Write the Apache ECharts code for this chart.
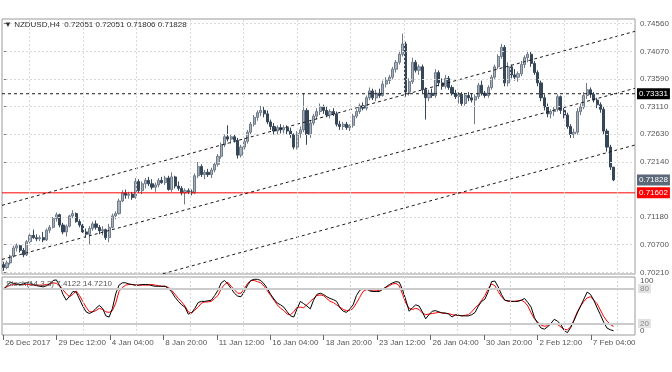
<!DOCTYPE html>
<html><head><meta charset="utf-8">
<script src="https://cdn.jsdelivr.net/npm/echarts@6/dist/echarts.min.js"></script>
<style>html,body{margin:0;padding:0;background:#fff}#c{width:672px;height:372px}</style>
</head><body><div id="c"></div>
<script>
// ---------------- DATA ----------------
const opens = [
0.7035,0.7030,0.7038,0.7050,0.7064,0.7068,0.7060,0.7052,0.7075,0.7086,
0.7082,0.7080,0.7082,0.7078,0.7095,0.7100,0.7115,0.7122,0.7104,0.7092,
0.7102,0.7120,0.7124,0.7110,0.7104,0.7092,0.7088,0.7098,0.7106,0.7100,
0.7094,0.7096,0.7082,0.7100,0.7120,0.7124,0.7146,0.7160,0.7156,0.7158,
0.7152,0.7180,0.7164,0.7176,0.7182,0.7176,0.7170,0.7174,0.7182,0.7178,
0.7186,0.7166,0.7188,0.7172,0.7168,0.7160,0.7164,0.7162,0.7160,0.7190,
0.7206,0.7192,0.7196,0.7192,0.7200,0.7210,0.7224,0.7244,0.7258,0.7254,
0.7258,0.7252,0.7226,0.7240,0.7250,0.7266,0.7280,0.7292,0.7300,0.7304,
0.7298,0.7284,0.7276,0.7268,0.7274,0.7270,0.7274,0.7268,0.7262,0.7240,
0.7264,0.7270,0.7304,0.7262,0.7282,0.7294,0.7302,0.7310,0.7304,0.7296,
0.7302,0.7298,0.7280,0.7276,0.7280,0.7274,0.7278,0.7294,0.7302,0.7312,
0.7308,0.7326,0.7338,0.7326,0.7334,0.7330,0.7350,0.7356,0.7362,0.7376,
0.7388,0.7402,0.7420,0.7336,0.7354,0.7388,0.7374,0.7380,0.7340,0.7326,
0.7334,0.7330,0.7370,0.7352,0.7346,0.7360,0.7344,0.7334,0.7328,0.7332,
0.7316,0.7330,0.7326,0.7322,0.7328,0.7348,0.7334,0.7330,0.7344,0.7362,
0.7380,0.7398,0.7414,0.7352,0.7380,0.7366,0.7362,0.7368,0.7384,0.7396,
0.7402,0.7386,0.7370,0.7352,0.7326,0.7310,0.7298,0.7302,0.7306,0.7328,
0.7304,0.7296,0.7276,0.7262,0.7266,0.7302,0.7310,0.7330,0.7340,0.7332,
0.7322,0.7314,0.7306,0.7268,0.7240,0.72051];
const closes = [
0.7030,0.7038,0.7050,0.7064,0.7068,0.7060,0.7052,0.7075,0.7086,0.7082,
0.7080,0.7082,0.7078,0.7095,0.7100,0.7115,0.7122,0.7104,0.7092,0.7102,
0.7120,0.7124,0.7110,0.7104,0.7092,0.7088,0.7098,0.7106,0.7100,0.7094,
0.7096,0.7082,0.7100,0.7120,0.7124,0.7146,0.7160,0.7156,0.7158,0.7152,
0.7180,0.7164,0.7176,0.7182,0.7176,0.7170,0.7174,0.7182,0.7178,0.7186,
0.7166,0.7188,0.7172,0.7168,0.7160,0.7164,0.7162,0.7160,0.7190,0.7206,
0.7192,0.7196,0.7192,0.7200,0.7210,0.7224,0.7244,0.7258,0.7254,0.7258,
0.7252,0.7226,0.7240,0.7250,0.7266,0.7280,0.7292,0.7300,0.7304,0.7298,
0.7284,0.7276,0.7268,0.7274,0.7270,0.7274,0.7268,0.7262,0.7240,0.7264,
0.7270,0.7304,0.7262,0.7282,0.7294,0.7302,0.7310,0.7304,0.7296,0.7302,
0.7298,0.7280,0.7276,0.7280,0.7274,0.7278,0.7294,0.7302,0.7312,0.7308,
0.7326,0.7338,0.7326,0.7334,0.7330,0.7350,0.7356,0.7362,0.7376,0.7388,
0.7402,0.7420,0.7336,0.7354,0.7388,0.7374,0.7380,0.7340,0.7326,0.7334,
0.7330,0.7370,0.7352,0.7346,0.7360,0.7344,0.7334,0.7328,0.7332,0.7316,
0.7330,0.7326,0.7322,0.7328,0.7348,0.7334,0.7330,0.7344,0.7362,0.7380,
0.7398,0.7414,0.7352,0.7380,0.7366,0.7362,0.7368,0.7384,0.7396,0.7402,
0.7386,0.7370,0.7352,0.7326,0.7310,0.7298,0.7302,0.7306,0.7328,0.7304,
0.7296,0.7276,0.7262,0.7266,0.7302,0.7310,0.7330,0.7340,0.7332,0.7322,
0.7314,0.7306,0.7268,0.7240,0.72051,0.71828];
const highs = [
0.7040,0.7042,0.7052,0.7068,0.7072,0.7070,0.7064,0.7078,0.7090,0.7096,
0.7088,0.7086,0.7092,0.7098,0.7104,0.7118,0.7126,0.7124,0.7108,0.7105,
0.7122,0.7130,0.7126,0.7114,0.7106,0.7098,0.7102,0.7110,0.7112,0.7104,
0.7102,0.7098,0.7106,0.7124,0.7128,0.7150,0.7165,0.7166,0.7162,0.7162,
0.7186,0.7184,0.7180,0.7186,0.7188,0.7184,0.7178,0.7186,0.7188,0.7190,
0.7190,0.7196,0.7190,0.7180,0.7172,0.7168,0.7168,0.7166,0.7194,0.7214,
0.7210,0.7200,0.7202,0.7204,0.7214,0.7228,0.7248,0.7262,0.7278,0.7262,
0.7262,0.7256,0.7244,0.7256,0.7270,0.7284,0.7296,0.7304,0.7312,0.7310,
0.7304,0.7288,0.7282,0.7278,0.7280,0.7278,0.7278,0.7274,0.7264,0.7268,
0.7276,0.7334,0.7308,0.7286,0.7298,0.7308,0.7316,0.7314,0.7310,0.7306,
0.7308,0.7302,0.7286,0.7284,0.7284,0.7280,0.7298,0.7306,0.7316,0.7318,
0.7330,0.7344,0.7342,0.7340,0.7342,0.7356,0.7362,0.7366,0.7380,0.7392,
0.7408,0.7438,0.7424,0.7360,0.7396,0.7392,0.7384,0.7384,0.7344,0.7340,
0.7342,0.7376,0.7374,0.7360,0.7366,0.7364,0.7348,0.7340,0.7336,0.7336,
0.7334,0.7336,0.7334,0.7332,0.7352,0.7356,0.7338,0.7348,0.7366,0.7384,
0.7402,0.7420,0.7418,0.7388,0.7384,0.7376,0.7372,0.7390,0.7400,0.7408,
0.7406,0.7390,0.7374,0.7356,0.7332,0.7316,0.7306,0.7310,0.7332,0.7330,
0.7308,0.7300,0.7280,0.7272,0.7308,0.7316,0.7336,0.7352,0.7344,0.7336,
0.7326,0.7318,0.7310,0.7272,0.7244,0.72051];
const lows = [
0.7024,0.7027,0.7035,0.7047,0.7058,0.7056,0.7048,0.7050,0.7072,0.7080,
0.7076,0.7076,0.7074,0.7076,0.7090,0.7098,0.7110,0.7100,0.7088,0.7084,
0.7100,0.7116,0.7108,0.7100,0.7090,0.7082,0.7070,0.7094,0.7096,0.7088,
0.7086,0.7078,0.7074,0.7098,0.7114,0.7122,0.7144,0.7150,0.7150,0.7148,
0.7150,0.7160,0.7158,0.7168,0.7172,0.7166,0.7162,0.7170,0.7176,0.7174,
0.7164,0.7162,0.7168,0.7164,0.7156,0.7140,0.7158,0.7156,0.7158,0.7186,
0.7188,0.7184,0.7188,0.7186,0.7196,0.7206,0.7220,0.7240,0.7250,0.7246,
0.7248,0.7220,0.7222,0.7236,0.7246,0.7262,0.7276,0.7286,0.7294,0.7292,
0.7280,0.7270,0.7262,0.7262,0.7264,0.7264,0.7262,0.7256,0.7236,0.7236,
0.7256,0.7266,0.7244,0.7256,0.7278,0.7288,0.7296,0.7298,0.7292,0.7290,
0.7294,0.7276,0.7270,0.7270,0.7270,0.7268,0.7274,0.7290,0.7298,0.7304,
0.7304,0.7322,0.7322,0.7320,0.7326,0.7328,0.7344,0.7350,0.7358,0.7370,
0.7384,0.7398,0.7328,0.7330,0.7350,0.7370,0.7366,0.7334,0.7288,0.7320,
0.7326,0.7326,0.7346,0.7340,0.7342,0.7340,0.7330,0.7324,0.7316,0.7312,
0.7312,0.7320,0.7318,0.7280,0.7324,0.7330,0.7326,0.7326,0.7340,0.7358,
0.7376,0.7394,0.7346,0.7346,0.7360,0.7356,0.7354,0.7364,0.7378,0.7388,
0.7380,0.7366,0.7346,0.7320,0.7304,0.7292,0.7290,0.7294,0.7302,0.7298,
0.7290,0.7272,0.7256,0.7256,0.7262,0.7296,0.7306,0.7324,0.7326,0.7318,
0.7308,0.7300,0.7262,0.7232,0.7200,0.71806];
const stochMain = [
79,85,91,89,88,87,88,90,90,87, 85,84,83,85,88,94,95,85,70,60,
67,75,74,62,50,40,37,40,46,51, 46,33,31,46,71,86,90,90,88,87,
86,86,87,87,87,85,84,84,84,84, 80,74,65,58,52,48,36,38,46,56,
58,58,59,60,68,77,90,94,88,80, 72,67,66,75,86,94,96,96,94,88,
80,70,62,55,52,48,40,33,31,45, 58,54,50,45,60,70,72,70,66,63,
61,58,47,41,39,45,52,68,77,80, 80,76,75,75,75,79,83,87,90,92,
91,78,60,41,47,52,50,40,28,35, 41,42,40,38,38,36,31,35,34,33,
33,33,35,39,50,58,62,75,92,93, 83,70,60,59,58,58,58,60,63,56,
48,30,20,12,10,14,20,27,24,18, 8,4,13,25,38,50,62,74,70,60,
47,35,22,12,9,7.4122];
const stochSignal = [
80,83,86,87,87,87,87,87,87,86, 86,86,86,87,88,90,89,85,78,71,
66,70,76,68,58,48,40,40,42,46, 44,40,39,42,55,75,82,86,87,87,
86,86,86,86,86,87,86,85,84,84, 82,77,70,63,57,50,40,38,43,48,
55,57,57,58,63,68,80,87,91,84, 78,72,72,80,89,94,94,92,90,84,
76,68,60,52,46,42,36,35,40,48, 48,47,52,58,63,68,69,68,63,58,
56,52,48,44,42,42,46,55,65,75, 78,78,76,76,77,79,82,85,88,89,
85,70,55,46,44,46,44,38,35,36, 37,38,39,38,37,37,35,34,34,33,
34,35,40,47,52,60,68,80,88,85, 75,66,60,58,58,58,59,60,57,50,
38,28,22,17,15,16,19,20,18,14, 10,9,14,26,40,50,58,64,66,60,
54,43,32,24,18,14.7210];
const xTickLabels = ['26 Dec 2017','29 Dec 12:00','4 Jan 04:00','8 Jan 20:00','11 Jan 12:00','16 Jan 04:00',
  '18 Jan 20:00','23 Jan 12:00','26 Jan 04:00','30 Jan 20:00','2 Feb 12:00','7 Feb 04:00'];
const yTickValues = [0.7021,0.7070,0.7118,0.7214,0.7263,0.7311,0.7359,0.7407,0.7456];
const stochLevels = [20, 80];
// trend lines: [bar position, price] end points
const trendUpper = [[-0.5, 0.71384], [191.5, 0.74420]];
const trendMiddle = [[-0.5, 0.70440], [191.5, 0.73426]];
const trendLower = [[48.3, 0.70190], [191.5, 0.72436]];
const resistanceLevel = 0.73331;
const supportLevel = 0.71602;
const lastClose = 0.71828;
const titleText = '\u25BC NZDUSD,H4  0.72051 0.72051 0.71806 0.71828';
const stochText = 'Stoch(14,3,3) 7.4122 14.7210';

// ---------------- CHART ----------------
const FONT = '"Liberation Sans", Arial, sans-serif';
const SLOTS = 192;
const X_MIN = -0.5, X_MAX = SLOTS - 0.5;
const TICK_STEP = 16.21, TICK_START = -0.2;
const xTickPos = xTickLabels.map((_, k) => TICK_START + TICK_STEP * k);
const vGridPos = xTickLabels.map((_, k) => TICK_START + TICK_STEP * (k + 0.5));
const cats = Array.from({length: SLOTS}, (_, i) => String(i));
const candles = opens.map((o, i) => [o, closes[i], lows[i], highs[i]]);
const hLine = level => [[X_MIN, level], [X_MAX, level]];

const gridLineStyle = {color: '#d9d9d9', width: 1, type: [2, 2]};
const dash = {color: '#1a1a1a', width: 1, type: [3, 3]};
const boxLabel = (bg) => ({show: true, position: 'end', distance: 2, formatter: p => p.value.toFixed(5),
  color: '#fff', backgroundColor: bg, padding: [2, 2, 1, 2], fontSize: 8, fontFamily: FONT});

const chart = echarts.init(document.getElementById('c'), null, {renderer: 'canvas'});
chart.setOption({
  animation: false,
  backgroundColor: '#ffffff',
  textStyle: {fontFamily: FONT},
  title: [
    {text: titleText, left: 4, top: 21, padding: 0,
     textStyle: {fontSize: 8, fontWeight: 'normal', color: '#333', fontFamily: FONT}},
    {text: stochText, left: 6, top: 280, padding: 0,
     textStyle: {fontSize: 8, fontWeight: 'normal', color: '#555', fontFamily: FONT}}
  ],
  grid: [
    {left: 2, top: 19, width: 633, height: 255, show: true, borderColor: '#9a9a9a', borderWidth: 1},
    {left: 2, top: 277, width: 633, height: 58, show: true, borderColor: '#9a9a9a', borderWidth: 1}
  ],
  xAxis: [
    {type: 'category', gridIndex: 0, data: cats, boundaryGap: true, show: false},
    {type: 'value', gridIndex: 0, min: X_MIN, max: X_MAX, show: false},
    {type: 'category', gridIndex: 1, data: cats, boundaryGap: true, show: false},
    {type: 'value', gridIndex: 1, min: X_MIN, max: X_MAX, position: 'bottom',
     axisLine: {show: false}, splitLine: {show: false},
     axisTick: {show: true, customValues: xTickPos, length: 5, lineStyle: {color: '#666'}},
     axisLabel: {customValues: xTickPos, align: 'left', margin: 4, padding: [0, 0, 0, 2],
       color: '#555', fontSize: 8, fontFamily: FONT,
       formatter: v => xTickLabels[Math.round((v - TICK_START) / TICK_STEP)] || ''}}
  ],
  yAxis: [
    {type: 'value', gridIndex: 0, position: 'right', min: 0.70186, max: 0.74635,
     axisLine: {show: false}, splitLine: {show: false},
     axisTick: {show: true, customValues: yTickValues, length: 3, lineStyle: {color: '#777'}},
     axisLabel: {customValues: yTickValues, formatter: v => v.toFixed(5), margin: 5,
       color: '#555', fontSize: 8, fontFamily: FONT}},
    {type: 'value', gridIndex: 1, position: 'right', min: 0, max: 100,
     axisLine: {show: false}, splitLine: {show: false}, axisTick: {show: false},
     axisLabel: {customValues: stochLevels, formatter: v => String(v), margin: 3,
       backgroundColor: '#e2e2e2', color: '#8c8c8c', padding: [1, 2, 0, 2],
       fontSize: 8, fontFamily: FONT}},
    {type: 'value', gridIndex: 1, position: 'right', min: 0, max: 100,
     axisLine: {show: false}, splitLine: {show: false}, axisTick: {show: false},
     axisLabel: {customValues: [100], verticalAlign: 'top', margin: 5,
       color: '#555', fontSize: 8, fontFamily: FONT}},
    {type: 'value', gridIndex: 1, position: 'right', min: 0, max: 100,
     axisLine: {show: false}, splitLine: {show: false}, axisTick: {show: false},
     axisLabel: {customValues: [0], verticalAlign: 'bottom', margin: 5,
       color: '#555', fontSize: 8, fontFamily: FONT}}
  ],
  series: [
    // main panel grid lines
    {type: 'line', xAxisIndex: 1, yAxisIndex: 0, data: [], silent: true, z: 0,
     markLine: {silent: true, symbol: 'none', animation: false, precision: 5, label: {show: false},
       lineStyle: gridLineStyle,
       data: [...yTickValues.map(v => ({yAxis: v})), ...vGridPos.map(v => ({xAxis: v}))]}},
    // candles
    {type: 'candlestick', xAxisIndex: 0, yAxisIndex: 0, data: candles, barWidth: '80%', z: 2,
     itemStyle: {color: '#a9b2bc', color0: '#37475a', borderColor: '#6f7b88', borderColor0: '#37475a', borderWidth: 1}},
    // horizontal levels
    {type: 'line', xAxisIndex: 1, yAxisIndex: 0, data: hLine(resistanceLevel), symbol: 'none', silent: true, z: 4,
     lineStyle: dash},
    {type: 'line', xAxisIndex: 1, yAxisIndex: 0, data: hLine(supportLevel), symbol: 'none', silent: true, z: 4,
     lineStyle: {color: '#ff0000', width: 1, type: 'solid'}},
    // price boxes on the right scale
    {type: 'line', xAxisIndex: 1, yAxisIndex: 0, data: [], silent: true, z: 6,
     markLine: {silent: true, symbol: 'none', animation: false, precision: 5,
       lineStyle: {color: 'rgba(0,0,0,0)', width: 1},
       data: [
         {yAxis: resistanceLevel, label: boxLabel('#000000')},
         {yAxis: supportLevel, label: boxLabel('#ff0000')},
         {yAxis: lastClose, label: boxLabel('#5a6878')}
       ]}},
    // channel lines
    {type: 'line', xAxisIndex: 1, yAxisIndex: 0, data: trendUpper, symbol: 'none', silent: true, z: 4, lineStyle: dash},
    {type: 'line', xAxisIndex: 1, yAxisIndex: 0, data: trendMiddle, symbol: 'none', silent: true, z: 4, lineStyle: dash},
    {type: 'line', xAxisIndex: 1, yAxisIndex: 0, data: trendLower, symbol: 'none', silent: true, z: 4, lineStyle: dash},
    // stochastic grid
    {type: 'line', xAxisIndex: 3, yAxisIndex: 1, data: [], silent: true, z: 0,
     markLine: {silent: true, symbol: 'none', animation: false, precision: 3, label: {show: false},
       data: [...vGridPos.map(v => ({xAxis: v, lineStyle: gridLineStyle})),
              ...stochLevels.map(v => ({yAxis: v, lineStyle: {color: '#cccccc', width: 2, type: 'solid'}}))]}},
    {type: 'line', xAxisIndex: 2, yAxisIndex: 1, data: stochSignal, symbol: 'none', silent: true, z: 3,
     lineStyle: {color: '#ff0000', width: 1}},
    {type: 'line', xAxisIndex: 2, yAxisIndex: 1, data: stochMain, symbol: 'none', silent: true, z: 4,
     lineStyle: {color: '#000000', width: 1}}
  ]
});
</script>
</body></html>
